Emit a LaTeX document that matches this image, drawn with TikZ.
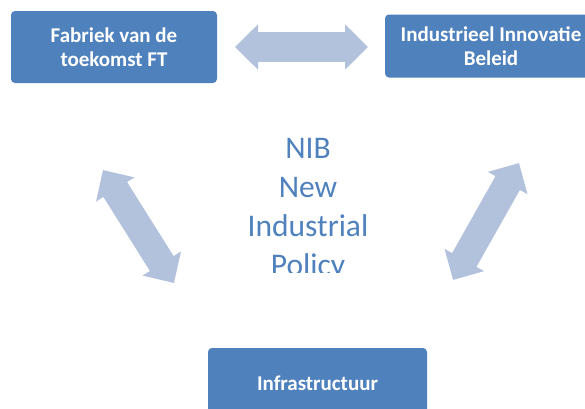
\documentclass[tikz,border=0pt]{standalone}
\usepackage{fontspec}
\setmainfont{Carlito}
\usetikzlibrary{arrows.meta}

\definecolor{blok}{HTML}{4F81BD}
\definecolor{pijl}{HTML}{B2C2DD}

\tikzset{
  blok/.style={rectangle, rounded corners=4pt, fill=blok, text=white,
    font=\bfseries\fontsize{21}{24.5}\selectfont, align=center, inner sep=0pt},
  dubbelpijl/.style={draw=pijl, line width=#1,
    {Triangle[length=23pt,width=44pt]}-{Triangle[length=23pt,width=44pt]}},
  dubbelpijl/.default=29pt
}

\begin{document}
\begin{tikzpicture}[x=1pt, y=-1pt]
    \clip (0,0) rectangle (585,408);

    % de drie blokken
    \node[blok, minimum width=206pt, minimum height=72pt] (fabriek) at (114,47) {Fabriek van de\\toekomst FT};
    \node[blok, minimum width=212pt, minimum height=63pt] (beleid) at (491,46) {Industrieel Innovatie\\Beleid};
    \node[blok, minimum width=219pt, minimum height=70pt] (infra) at (317.5,383) {Infrastructuur};

    % tekst in het midden
    \begin{scope}
      \clip (0,0) rectangle (585,272);
      \node[text=blok, font=\fontsize{31.5}{39}\selectfont, align=center, inner sep=0pt, anchor=north]
        (nib) at (308,138) {NIB\\New\\Industrial\\Policy};
    \end{scope}

    % pijlen
    \coordinate (p1) at (235,47);
    \coordinate (p2) at (368,47);
    \coordinate (p3) at (103,170);
    \coordinate (p4) at (174,283);
    \coordinate (p5) at (519,163);
    \coordinate (p6) at (453,280);

    \draw[dubbelpijl=30pt] (p1) -- (p2);
    \draw[dubbelpijl=28pt] (p3) -- (p4);
    \draw[dubbelpijl=28pt] (p5) -- (p6);
\end{tikzpicture}
\end{document}
